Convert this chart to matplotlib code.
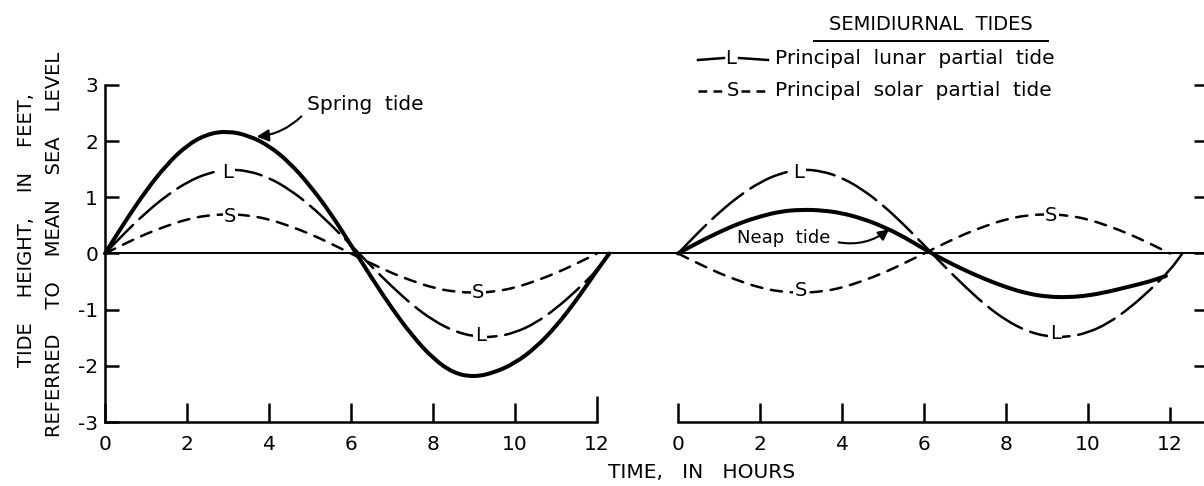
import matplotlib
matplotlib.use("Agg")
import matplotlib.pyplot as plt
from matplotlib.path import Path
from matplotlib.patches import PathPatch

# readings, 0.5 h steps
hours = [0, 0.5, 1, 1.5, 2, 2.5, 3, 3.5, 4, 4.5, 5, 5.5, 6,
         6.5, 7, 7.5, 8, 8.5, 9, 9.5, 10, 10.5, 11, 11.5, 12]
lunar_hours = hours + [12.3]
neap_hours = hours[:-1] + [11.9]

lunar = [0, 0.38, 0.73, 1.03, 1.27, 1.43, 1.50, 1.47, 1.35, 1.14, 0.86, 0.52, 0.15,
         -0.23, -0.59, -0.92, -1.19, -1.38, -1.48, -1.49, -1.41, -1.24, -0.98, -0.66, -0.30, 0.0]
solar_spring = [0, 0.18, 0.35, 0.49, 0.61, 0.68, 0.70, 0.68, 0.61, 0.49, 0.35, 0.18, 0,
                -0.18, -0.35, -0.49, -0.61, -0.68, -0.70, -0.68, -0.61, -0.49, -0.35, -0.18, 0]
spring = [0, 0.58, 1.12, 1.58, 1.93, 2.13, 2.18, 2.10, 1.92, 1.62, 1.21, 0.72, 0.15,
          -0.43, -0.98, -1.47, -1.87, -2.13, -2.20, -2.12, -1.95, -1.68, -1.30, -0.83, -0.30, 0.0]
solar_neap = [0, -0.18, -0.35, -0.49, -0.61, -0.68, -0.70, -0.68, -0.61, -0.49, -0.35, -0.18, 0,
              0.18, 0.35, 0.49, 0.61, 0.68, 0.70, 0.68, 0.61, 0.49, 0.35, 0.18, 0]
neap = [0, 0.20, 0.38, 0.54, 0.66, 0.75, 0.78, 0.77, 0.72, 0.62, 0.48, 0.30, 0.08,
        -0.12, -0.30, -0.46, -0.60, -0.71, -0.77, -0.78, -0.75, -0.68, -0.59, -0.50, -0.40]

xticks = [0, 2, 4, 6, 8, 10]
yticks = [-3, -2, -1, 0, 1, 2, 3]
ylabels = ["-3", "-2", "-1", "0", "1", "2", "3"]

LW_THICK = 2.9
LW_THIN = 1.8
L_DASH = (0, (16, 3.5))
S_DASH = (0, (4.5, 3.5))
TICK_FS = 14.5


def smooth(ax, xs, ys, **kw):
    # quadratic curve through the midpoints, the readings act as control points
    verts = [(xs[0], ys[0])]
    codes = [Path.MOVETO]
    mids = [((xs[i] + xs[i + 1]) / 2, (ys[i] + ys[i + 1]) / 2) for i in range(len(xs) - 1)]
    verts.append(mids[0])
    codes.append(Path.LINETO)
    for i in range(1, len(xs) - 1):
        verts += [(xs[i], ys[i]), mids[i]]
        codes += [Path.CURVE3, Path.CURVE3]
    verts.append((xs[-1], ys[-1]))
    codes.append(Path.LINETO)
    patch = PathPatch(Path(verts, codes), fill=False, edgecolor="black",
                      clip_on=False, capstyle="round", **kw)
    ax.add_patch(patch)


fig = plt.figure(figsize=(12.04, 4.86), dpi=100)
ax1 = fig.add_axes([105 / 1204, 64 / 486, 573 / 1204, 337 / 486])
ax2 = fig.add_axes([678 / 1204, 64 / 486, 526 / 1204, 337 / 486])

for ax in (ax1, ax2):
    ax.set_ylim(-3, 3)
    ax.axhline(0, color="black", lw=1.4, zorder=1)
    ax.spines["top"].set_visible(False)
    ax.spines["right"].set_visible(False)
    ax.spines["bottom"].set_linewidth(LW_THIN)
    ax.spines["left"].set_linewidth(LW_THIN)
    ax.set_xticks(xticks, labels=[str(t) for t in xticks])
    ax.tick_params(axis="x", which="major", direction="in", length=13.7,
                   width=LW_THIN, labelsize=TICK_FS, pad=9)

# left panel: spring tide
ax1.set_xlim(0, 573 / 41)
ax1.spines["bottom"].set_bounds(0, 12)
ax1.set_xticks([12], labels=["12"], minor=True)
ax1.tick_params(axis="x", which="minor", direction="in", length=19,
                width=LW_THIN, labelsize=TICK_FS, pad=9)
ax1.set_yticks(yticks, labels=ylabels)
ax1.tick_params(axis="y", direction="in", length=10, width=LW_THIN,
                labelsize=TICK_FS, pad=5)

smooth(ax1, lunar_hours, spring, lw=LW_THICK)
smooth(ax1, lunar_hours, lunar, lw=LW_THIN, linestyle=L_DASH)
smooth(ax1, hours, solar_spring, lw=LW_THIN, linestyle=S_DASH)

# right panel: neap tide
ax2.set_xlim(0, 526 / 41)
ax2.spines["left"].set_visible(False)
ax2.set_xticks([12], labels=["12"], minor=True)
ax2.tick_params(axis="x", which="minor", direction="in", length=11,
                width=LW_THIN, labelsize=TICK_FS, pad=9)
ax2.yaxis.tick_right()
ax2.set_yticks([-2, -1, 0, 1, 2, 3])
ax2.tick_params(axis="y", direction="in", length=7, width=LW_THIN,
                labelright=False, labelleft=False)

smooth(ax2, neap_hours, neap, lw=LW_THICK)
smooth(ax2, lunar_hours, lunar, lw=LW_THIN, linestyle=L_DASH)
smooth(ax2, hours, solar_neap, lw=LW_THIN, linestyle=S_DASH)

# letters sitting on the curves
lbl = dict(ha="center", va="center", fontsize=14, zorder=5,
           bbox=dict(fc="white", ec="none", pad=1.0))
ax1.text(3.0, 1.45, "L", **lbl)
ax1.text(3.05, 0.66, "S", **lbl)
ax1.text(9.1, -0.69, "S", **lbl)
ax1.text(9.15, -1.46, "L", **lbl)
ax2.text(2.95, 1.45, "L", **lbl)
ax2.text(3.0, -0.66, "S", **lbl)
ax2.text(9.1, 0.67, "S", **lbl)
ax2.text(9.2, -1.43, "L", **lbl)

ax1.annotate("Spring  tide", xy=(3.7, 2.08), xytext=(4.93, 2.65),
             ha="left", va="center", fontsize=14.5,
             arrowprops=dict(arrowstyle="-|>", color="black", lw=1.5,
                             mutation_scale=18, relpos=(0, 0.2),
                             shrinkA=3, shrinkB=0,
                             connectionstyle="arc3,rad=-0.2"))
ax2.annotate("Neap  tide", xy=(5.15, 0.43), xytext=(1.44, 0.28),
             ha="left", va="center", fontsize=13,
             arrowprops=dict(arrowstyle="-|>", color="black", lw=1.5,
                             mutation_scale=16, relpos=(1, 0.35),
                             shrinkA=4, shrinkB=0,
                             connectionstyle="arc3,rad=0.25"))

# overlay in pixel units for the legend block and axis titles
ov = fig.add_axes([0, 0, 1, 1])
ov.set_xlim(0, 1204)
ov.set_ylim(486, 0)
ov.axis("off")

ov.text(931, 24, "SEMIDIURNAL  TIDES", ha="center", va="center", fontsize=14)
ov.plot([814, 1048], [41, 41], color="black", lw=1.4)

ov.plot([698, 724], [60, 58], color="black", lw=LW_THIN)
ov.text(731, 58, "L", ha="center", va="center", fontsize=14)
ov.plot([739, 768], [58, 60], color="black", lw=LW_THIN)
ov.text(775, 58, "Principal  lunar  partial  tide", ha="left", va="center", fontsize=14.5)

ov.plot([698, 726], [91, 91], color="black", lw=LW_THIN, linestyle=(0, (3.5, 2.5)))
ov.text(733, 91, "S", ha="center", va="center", fontsize=14)
ov.plot([741, 769], [91, 91], color="black", lw=LW_THIN, linestyle=(0, (3.5, 2.5)))
ov.text(775, 91, "Principal  solar  partial  tide", ha="left", va="center", fontsize=14.5)

ov.text(27, 230, "TIDE    HEIGHT,    IN    FEET,", rotation=90,
        ha="center", va="center", fontsize=14)
ov.text(55, 244, "REFERRED    TO    MEAN    SEA    LEVEL", rotation=90,
        ha="center", va="center", fontsize=14)
ov.text(702, 472, "TIME,   IN   HOURS", ha="center", va="center", fontsize=14.5)

fig.savefig("out.png", dpi=100)
